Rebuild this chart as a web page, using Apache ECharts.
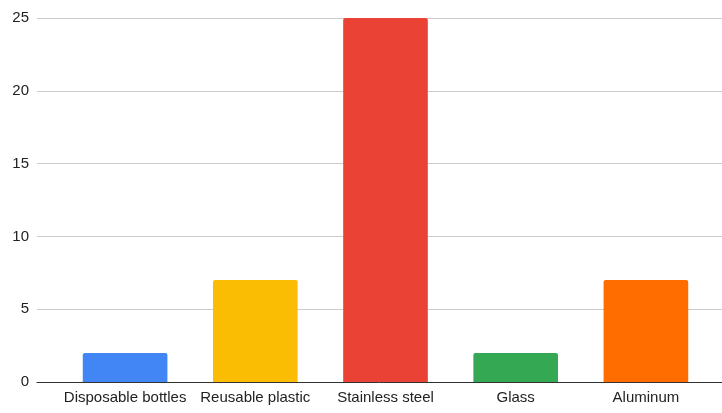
<!DOCTYPE html>
<html>
<head>
<meta charset="utf-8">
<script src="https://cdn.jsdelivr.net/npm/echarts@6/dist/echarts.min.js"></script>
<style>
  html, body { margin: 0; padding: 0; background: #fff; }
  #chart { width: 722px; height: 413px; }
</style>
</head>
<body>
<div id="chart"></div>
<script>
// Bottle types and counts
const categories = ['Disposable bottles', 'Reusable plastic', 'Stainless steel', 'Glass', 'Aluminum'];
const values = [2, 7, 25, 2, 7];
const barColors = ['#4285F4', '#FBBC04', '#EA4335', '#34A853', '#FF6D01'];
const yMin = 0, yMax = 25, yStep = 5;

const font = 'Arial, "Liberation Sans", sans-serif';
const chart = echarts.init(document.getElementById('chart'));

chart.setOption({
  animation: false,
  grid: [
    // full-width grid: gridlines, value labels and baseline
    { left: 37, right: 0, top: 18, bottom: 31 },
    // bars
    { left: 60, right: 11, top: 18, bottom: 31 }
  ],
  xAxis: [
    {
      gridIndex: 0, type: 'category', data: [''],
      axisLine: { show: true, lineStyle: { color: '#333', width: 1 } },
      axisTick: { show: false }, axisLabel: { show: false }
    },
    {
      gridIndex: 1, type: 'category', data: categories,
      axisLine: { show: false }, axisTick: { show: false },
      axisLabel: { color: '#222', fontSize: 15, fontFamily: font, margin: 8, interval: 0 }
    }
  ],
  yAxis: [
    {
      gridIndex: 0, type: 'value', min: yMin, max: yMax, interval: yStep,
      axisLine: { show: false }, axisTick: { show: false },
      axisLabel: { color: '#222', fontSize: 15, fontFamily: font, margin: 8 },
      splitLine: { lineStyle: { color: '#ccc', width: 1 } }
    },
    {
      gridIndex: 1, type: 'value', min: yMin, max: yMax, interval: yStep,
      show: false, splitLine: { show: false }
    }
  ],
  series: [{
    type: 'bar',
    xAxisIndex: 1, yAxisIndex: 1,
    barCategoryGap: '35%',
    data: values.map((v, i) => ({ value: v, itemStyle: { color: barColors[i], borderRadius: [2, 2, 0, 0] } }))
  }]
});
</script>
</body>
</html>
